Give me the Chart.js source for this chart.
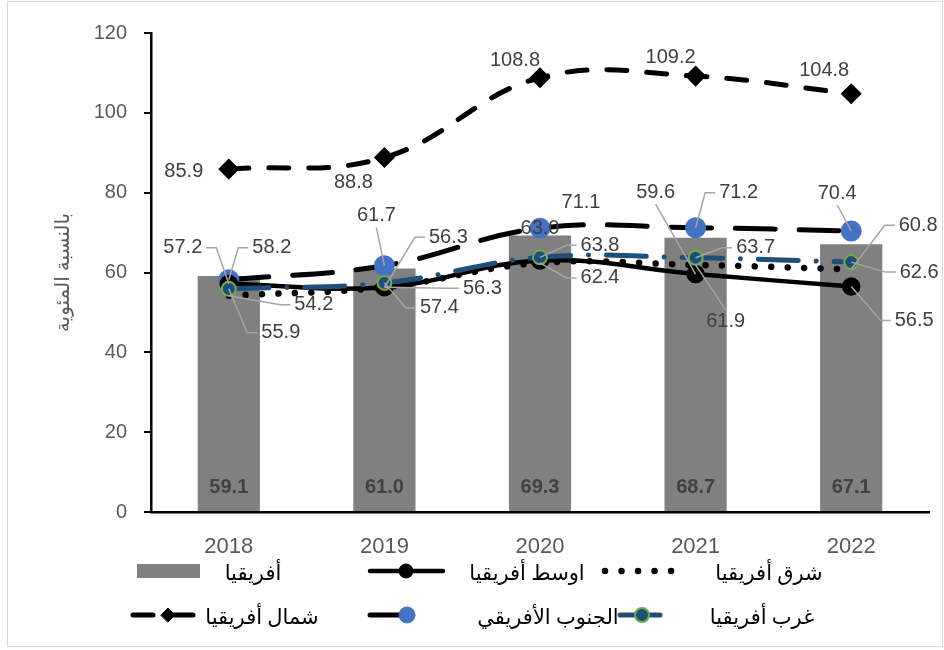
<!DOCTYPE html>
<html lang="ar">
<head>
<meta charset="utf-8">
<script src="https://cdn.jsdelivr.net/npm/chart.js@4.4.1/dist/chart.umd.min.js"></script>
<style>
  html, body { margin: 0; padding: 0; background: #fff; }
  #frame { position: absolute; left: 7px; top: 1px; width: 934px; height: 644px; border: 1.5px solid #d9d9d9; }
  #wrap { position: absolute; left: 0; top: 0; width: 944px; height: 650px; }
</style>
</head>
<body>
<div id="frame"></div>
<div id="wrap"><canvas id="chart" width="944" height="650"></canvas></div>
<script>
const years = ['2018', '2019', '2020', '2021', '2022'];
const yTicks = [0, 20, 40, 60, 80, 100, 120];

const africa   = [59.1, 61.0, 69.3, 68.7, 67.1];
const central  = [57.2, 56.3, 63.0, 59.6, 56.5];
const east     = [54.2, 56.3, 62.4, 61.9, 60.8];
const north    = [85.9, 88.8, 108.8, 109.2, 104.8];
const southern = [58.2, 61.7, 71.1, 71.2, 70.4];
const west     = [55.9, 57.4, 63.8, 63.7, 62.6];

const names = {
  africa: 'أفريقيا',
  central: 'اوسط أفريقيا',
  east: 'شرق أفريقيا',
  north: 'شمال أفريقيا',
  southern: 'الجنوب الأفريقي',
  west: 'غرب أفريقيا'
};
const yTitle = 'بالنسبة المئوية';

// where each value label sits relative to its point: [dx, dy, leader]
const labelPlacement = {
  central:  [[-46, -36, 'h'], [64, -50, 'h'], [0, -32, null], [-40, -82, 'v'], [63, 34, 'h']],
  east:     [[85, 9, 'h'], [98, 1, 'h'], [60, 15, 'h'], [30, 57, 'v'], [67, -44, 'h']],
  north:    [[-45, 2, null], [-31, 25, null], [-25, -17, null], [-25, -19, null], [-27, -23, null]],
  southern: [[43, -32, 'h'], [-8, -50, 'v'], [41, -26, null], [43, -35, 'h'], [-14, -38, 'v']],
  west:     [[52, 44, 'h'], [55, 25, 'h'], [60, -12, 'h'], [60, -10, 'h'], [68, 10, 'h']]
};

const NUM_FONT = '"Liberation Sans", Arial, sans-serif';
const AR_FONT = '"Liberation Serif", "DejaVu Sans", serif';

function lineSet(key, data, style) {
  return Object.assign({
    type: 'line',
    key: key,
    label: names[key],
    data: data,
    fill: false,
    tension: 0.4,
    borderColor: '#000',
    borderCapStyle: 'round',
    pointRadius: 0,
    pointHoverRadius: 0,
    labelPlacement: labelPlacement[key]
  }, style);
}

const datasets = [
  {
    type: 'bar', key: 'africa', label: names.africa, data: africa,
    backgroundColor: '#808080', barPercentage: 0.4, categoryPercentage: 1, order: 10
  },
  lineSet('north', north, {
    borderWidth: 5, borderDash: [20, 20], pointStyle: 'rectRot', pointRadius: 7,
    pointBackgroundColor: '#000', pointBorderColor: '#000', order: 5
  }),
  lineSet('southern', southern, {
    borderWidth: 5, borderDash: [40, 24], pointStyle: 'circle', pointRadius: 8,
    pointBackgroundColor: '#4472C4', pointBorderColor: '#4472C4', order: 4
  }),
  lineSet('east', east, {
    borderWidth: 6.5, borderDash: [0.01, 16.5], order: 3
  }),
  lineSet('central', central, {
    borderWidth: 4.5, borderCapStyle: 'butt', pointStyle: 'circle', pointRadius: 7,
    pointBackgroundColor: '#000', pointBorderColor: '#000', order: 2
  }),
  lineSet('west', west, {
    borderColor: '#1F4E79', borderWidth: 5, borderDash: [40, 18, 0.01, 18], pointStyle: 'circle',
    pointRadius: 7, pointBorderWidth: 2, pointBackgroundColor: '#1F4E79', pointBorderColor: '#70AD47', order: 1
  })
];

// legend slots: symbol span, row, marker x and text centre
const legendLayout = [
  { key: 'africa',   x0: 137, x1: 200, row: 0, tx: 253 },
  { key: 'central',  x0: 370, x1: 443, row: 0, tx: 527, mx: 406 },
  { key: 'east',     x0: 605, x1: 679, row: 0, tx: 769 },
  { key: 'north',    x0: 133, x1: 200, row: 1, tx: 262, mx: 168 },
  { key: 'southern', x0: 370, x1: 418, row: 1, tx: 548, mx: 407 },
  { key: 'west',     x0: 620, x1: 674, row: 1, tx: 762, mx: 642 }
];
const legendRows = [571, 615];

function drawMarker(ctx, ds, x, y) {
  ctx.save();
  ctx.fillStyle = ds.pointBackgroundColor;
  ctx.strokeStyle = ds.pointBorderColor;
  ctx.lineWidth = ds.pointBorderWidth || 1;
  Chart.helpers.drawPoint(ctx, {
    pointStyle: ds.pointStyle, radius: ds.pointRadius, rotation: 0, borderWidth: ds.pointBorderWidth || 1
  }, x, y);
  ctx.restore();
}

const valueLabels = {
  id: 'valueLabels',
  afterDatasetsDraw(chart) {
    const ctx = chart.ctx;
    ctx.save();
    ctx.textAlign = 'center';
    ctx.textBaseline = 'middle';
    chart.data.datasets.forEach((ds, i) => {
      const meta = chart.getDatasetMeta(i);
      if (ds.type === 'bar') {
        ctx.font = 'bold 20px ' + NUM_FONT;
        ctx.fillStyle = '#404040';
        meta.data.forEach((bar, j) => ctx.fillText(ds.data[j].toFixed(1), bar.x, bar.base - 24));
        return;
      }
      ctx.font = '20px ' + NUM_FONT;
      meta.data.forEach((pt, j) => {
        const [dx, dy, leader] = ds.labelPlacement[j];
        const cx = pt.x + dx, cy = pt.y + dy;
        const text = ds.data[j].toFixed(1);
        const w = ctx.measureText(text).width;
        if (leader) {
          ctx.strokeStyle = '#A6A6A6';
          ctx.lineWidth = 1.5;
          ctx.beginPath();
          ctx.moveTo(pt.x, pt.y);
          if (leader === 'h') {
            const side = dx > 0 ? -1 : 1;
            const ax = cx + side * (w / 2 + 4);
            ctx.lineTo(ax + side * 10, cy);
            ctx.lineTo(ax, cy);
          } else {
            ctx.lineTo(cx, cy + (dy < 0 ? 12 : -12));
          }
          ctx.stroke();
        }
        ctx.fillStyle = '#404040';
        ctx.fillText(text, cx, cy);
      });
    });
    ctx.restore();
  }
};

const legendAndTitle = {
  id: 'legendAndTitle',
  afterDraw(chart) {
    const ctx = chart.ctx;
    const area = chart.chartArea;

    // y axis title
    ctx.save();
    ctx.translate(64, (area.top + area.bottom) / 2);
    ctx.rotate(-Math.PI / 2);
    ctx.font = '20px ' + AR_FONT;
    ctx.fillStyle = '#595959';
    ctx.textAlign = 'center';
    ctx.textBaseline = 'middle';
    ctx.fillText(yTitle, 0, 0);
    ctx.restore();

    // legend
    legendLayout.forEach(item => {
      const ds = chart.data.datasets.find(d => d.key === item.key);
      const y = legendRows[item.row];
      ctx.save();
      if (ds.type === 'bar') {
        ctx.fillStyle = ds.backgroundColor;
        ctx.fillRect(item.x0, y - 7, item.x1 - item.x0, 14);
      } else {
        ctx.strokeStyle = ds.borderColor;
        ctx.lineWidth = ds.borderWidth;
        ctx.lineCap = 'round';
        ctx.setLineDash(ds.borderDash || []);
        ctx.beginPath();
        ctx.moveTo(item.x0, y);
        ctx.lineTo(item.x1, y);
        ctx.stroke();
        ctx.setLineDash([]);
        if (item.mx !== undefined && ds.pointRadius > 0) drawMarker(ctx, ds, item.mx, y);
      }
      ctx.font = '21px ' + AR_FONT;
      ctx.fillStyle = '#000';
      ctx.textAlign = 'center';
      ctx.textBaseline = 'middle';
      ctx.fillText(ds.label, item.tx, y + 3);
      ctx.restore();
    });
  }
};

new Chart(document.getElementById('chart'), {
  data: { labels: years, datasets: datasets },
  options: {
    responsive: false,
    animation: false,
    devicePixelRatio: 1,
    layout: { padding: { top: 33, right: 15, bottom: 88, left: 0 } },
    plugins: { legend: { display: false }, tooltip: { enabled: false } },
    scales: {
      x: {
        grid: { display: false },
        border: { display: true, color: '#000', width: 2.5 },
        ticks: { color: '#595959', font: { family: NUM_FONT, size: 22 }, padding: 14 },
        afterFit(scale) { scale.height = 50; }
      },
      y: {
        min: 0,
        max: 120,
        afterBuildTicks(scale) { scale.ticks = yTicks.map(v => ({ value: v })); },
        grid: { drawOnChartArea: false, drawTicks: true, tickLength: 7, color: '#000', lineWidth: 2 },
        border: { display: true, color: '#000', width: 2.5 },
        ticks: { color: '#595959', font: { family: NUM_FONT, size: 20 }, padding: 17 },
        afterFit(scale) { scale.width = 151; }
      }
    }
  },
  plugins: [valueLabels, legendAndTitle]
});
</script>
</body>
</html>
